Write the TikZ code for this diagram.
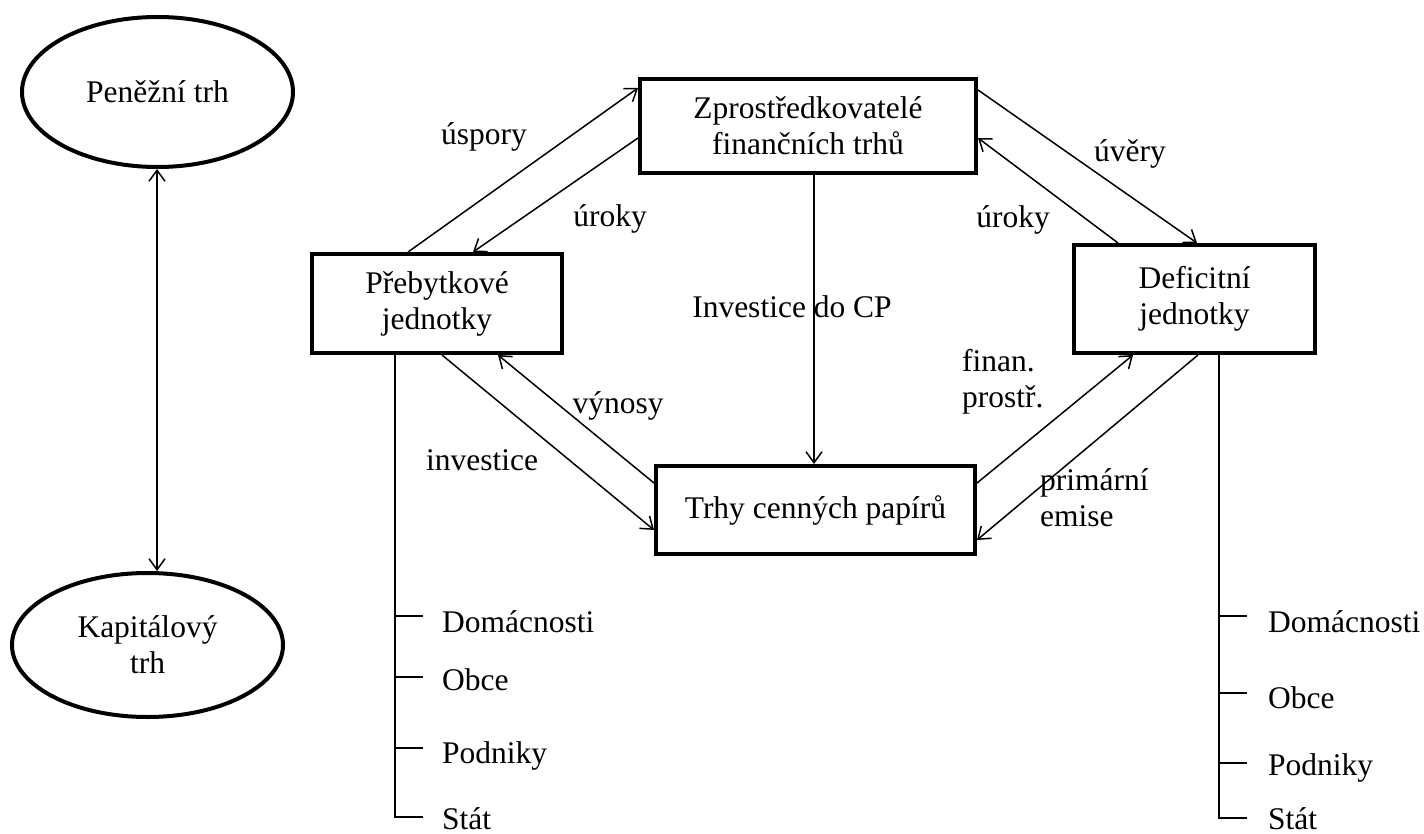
\documentclass[tikz,border=0pt]{standalone}
\usepackage{fontspec}
\setmainfont{Liberation Serif}
\usetikzlibrary{arrows.meta,shapes.geometric}
\begin{document}
\begin{tikzpicture}[x=1pt,y=-1pt,
  every node/.style={font=\fontsize{31.5}{36}\selectfont, inner sep=0pt},
  box/.style={draw, line width=4pt, align=center, rectangle},
  oval/.style={draw, line width=4pt, ellipse, align=center},
  flow/.style={line width=1.5pt, -{Straight Barb[length=11pt,width=16pt,line width=1.5pt]}},
  both/.style={line width=1.5pt, {Straight Barb[length=11pt,width=16pt,line width=1.5pt]}-{Straight Barb[length=11pt,width=16pt,line width=1.5pt]}},
  tree/.style={line width=1.5pt},
  lbl/.style={anchor=center},
  item/.style={anchor=base west}]
\useasboundingbox (0,0) rectangle (1424,834);
% ellipses
\node[oval, minimum width=271pt, minimum height=150pt] (money) at (157.5,92) {Peněžní trh};
\node[oval, minimum width=271pt, minimum height=144pt] (capital) at (147.5,645) {Kapitálový\\trh};
% boxes
\node[box, minimum width=336pt, minimum height=94pt] (Z) at (808,126) {Zprostředkovatelé\\finančních trhů};
\node[box, minimum width=250pt, minimum height=99pt] (P) at (437,303.5) {Přebytkové\\jednotky};
\node[box, minimum width=241pt, minimum height=108pt] (D) at (1194.5,299) {Deficitní\\jednotky};
\node[box, minimum width=319pt, minimum height=88pt] (T) at (815.5,510) {Trhy cenných papírů};
% money <-> capital
\coordinate (mtop) at (157,169);
\coordinate (mbot) at (157,571);
\draw[both] (mtop) -- (mbot);
% top-left pair
\draw[flow] (P.north -| 408,0) -- (Z.west |- 0,88);
\draw[flow] (Z.west |- 0,138) -- (P.north -| 473,0);
% top-right pair
\draw[flow] (Z.east |- 0,90) -- (D.north -| 1197,0);
\draw[flow] (D.north -| 1118,0) -- (Z.east |- 0,138);
% centre
\draw[flow] (Z.south -| 814,0) -- (T.north -| 814,0);
% bottom-left pair
\draw[flow] (P.south -| 442,0) -- (T.west |- 0,530);
\draw[flow] (T.west |- 0,483) -- (P.south -| 498,0);
% bottom-right pair
\draw[flow] (T.east |- 0,483) -- (D.south -| 1133,0);
\draw[flow] (D.south -| 1198,0) -- (T.east |- 0,540);
% labels
\node[lbl] (l1) at (484,137) {úspory};
\node[lbl] (l2) at (610,219) {úroky};
\node[lbl] (l3) at (1130,154) {úvěry};
\node[lbl] (l4) at (1013,220) {úroky};
\node[lbl] (l5) at (792,307) {Investice do CP};
\node[lbl] (l6) at (618,406) {výnosy};
\node[lbl] (l7) at (482,460) {investice};
\node[anchor=west, align=left] (l8) at (962,382) {finan.\\prostř.};
\node[anchor=west, align=left] (l9) at (1040,498) {primární\\emise};
% left tree
\coordinate (lt) at (395,817);
\draw[tree] (P.south -| 395,0) -- (lt) -- (423,817);
\draw[tree] (395,616) -- (423,616);
\draw[tree] (395,677) -- (423,677);
\draw[tree] (395,748) -- (423,748);
\node[item] (ld) at (442,632) {Domácnosti};
\node[item] (lo) at (442,690) {Obce};
\node[item] (lp) at (442,763) {Podniky};
\node[item] (ls) at (442,829) {Stát};
% right tree
\coordinate (rt) at (1219,818);
\draw[tree] (D.south -| 1219,0) -- (rt) -- (1247,818);
\draw[tree] (1219,616) -- (1247,616);
\draw[tree] (1219,693) -- (1247,693);
\draw[tree] (1219,763) -- (1247,763);
\node[item] (rd) at (1268,632) {Domácnosti};
\node[item] (ro) at (1268,708) {Obce};
\node[item] (rp) at (1268,775) {Podniky};
\node[item] (rs) at (1268,829) {Stát};
\end{tikzpicture}
\end{document}
